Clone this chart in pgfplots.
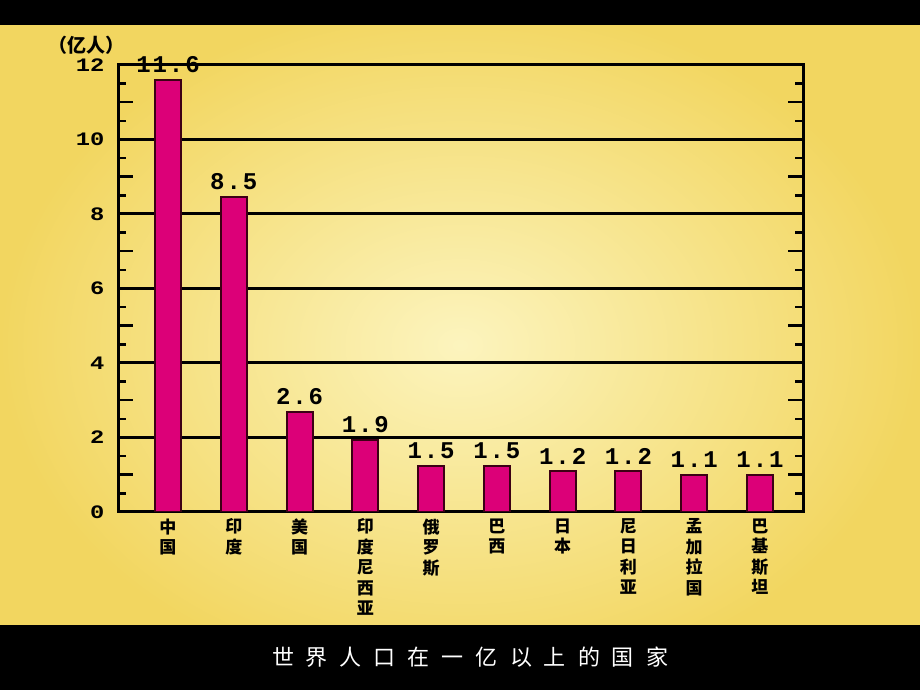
\documentclass[border=0pt]{standalone}
\usepackage{fontspec}
\usepackage{pgfplots}
\pgfplotsset{compat=1.18}
\newfontfamily\cjk{Noto Sans CJK SC}
\newfontfamily\mono{Liberation Mono}[LetterSpace=8]
\newfontfamily\monow{Liberation Mono}[FakeStretch=1.25]
\definecolor{barc}{RGB}{220,0,120}
\begin{document}
\begin{tikzpicture}[x=1pt,y=1pt]
\shade[inner color={rgb,255:red,252;green,244;blue,190}, outer color={rgb,255:red,242;green,214;blue,96}] (0,0) rectangle (920,690);
\fill[black] (0,665) rectangle (920,690);
\fill[black] (0,0) rectangle (920,65);
\begin{axis}[
  at={(118pt,178pt)}, anchor=south west,
  scale only axis, width=685pt, height=447pt,
  xmin=-0.76, xmax=9.654, ymin=0, ymax=12,
  ytick={0,2,...,12}, minor ytick={0.5,1.5,...,11.5},
  ymajorgrids, grid style={black, line width=3pt},
  axis line style={black, line width=3pt},
  tick align=inside,
  major tick length=0pt, minor tick length=8pt,
  every minor tick/.style={black, line width=2.5pt},
  extra y ticks={1,3,...,11},
  extra y tick labels={},
  extra y tick style={grid=none, major tick length=15pt, every major tick/.style={black, line width=2.5pt}},
  xtick={0,...,9},
  xtick style={draw=none},
  xticklabels={{中\\国},{印\\度},{美\\国},{印\\度\\尼\\西\\亚},{俄\\罗\\斯},{巴\\西},{日\\本},{尼\\日\\利\\亚},{孟\\加\\拉\\国},{巴\\基\\斯\\坦}},
  xticklabel style={font=\cjk\bfseries\fontsize{17}{20.5}\selectfont, align=center, anchor=north, yshift=-3pt},
  /pgf/number format/assume math mode=true,
  yticklabel style={font=\monow\bfseries\fontsize{19}{19}\selectfont, xshift=-10pt},
  ybar, bar width=26pt,
  point meta=explicit symbolic,
  nodes near coords,
  nodes near coords style={font=\mono\bfseries\fontsize{24}{24}\selectfont, anchor=south, yshift=3pt},
]
% bar heights as drawn in the picture; labels as printed above the bars
\addplot[fill=barc, draw={rgb,255:red,60;green,0;blue,20}, line width=2pt] coordinates {
(0,11.6) [11.6] (1,8.45) [8.5] (2,2.69) [2.6] (3,1.92) [1.9] (4,1.23) [1.5]
(5,1.23) [1.5] (6,1.09) [1.2] (7,1.09) [1.2] (8,0.99) [1.1] (9,0.99) [1.1]};
\end{axis}
\node[font=\cjk\bfseries\fontsize{19}{19}\selectfont] at (86,645) {（亿人）};
\node[font=\cjk\fontsize{22}{22}\selectfont, text=white] at (470,33) {世\hspace{12pt}界\hspace{12pt}人\hspace{12pt}口\hspace{12pt}在\hspace{12pt}一\hspace{12pt}亿\hspace{12pt}以\hspace{12pt}上\hspace{12pt}的\hspace{12pt}国\hspace{12pt}家};
\end{tikzpicture}
\end{document}
